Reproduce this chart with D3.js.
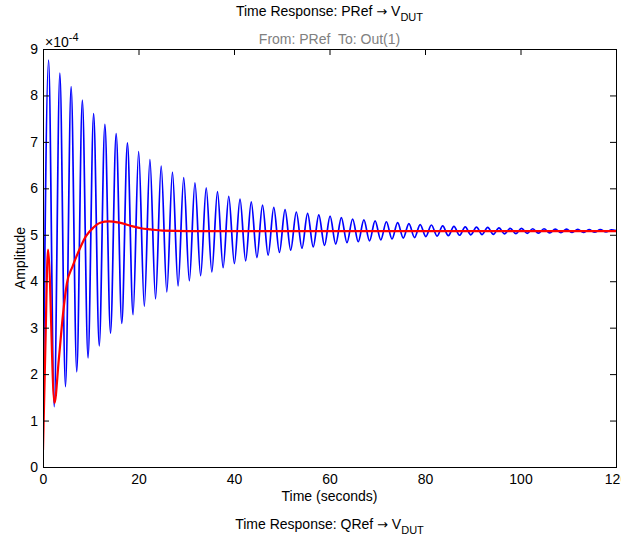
<!DOCTYPE html>
<html><head><meta charset="utf-8">
<script src="https://cdn.jsdelivr.net/npm/d3@7"></script>
<style>
body{margin:0;background:#fff}
svg{display:block}
text{font-family:"Liberation Sans",Arial,Helvetica,sans-serif}
</style>
</head><body>
<svg id="c" width="636" height="543"></svg>
<script>
// ---- data (amplitude in units of 1e-4) ----
const xTicks = [0, 20, 40, 60, 80, 100, 120];
const yTicks = [0, 1, 2, 3, 4, 5, 6, 7, 8, 9];
const titleTop = ["Time Response: PRef ", "\u2192", " V", "DUT"];
const titleBottom = ["Time Response: QRef ", "\u2192", " V", "DUT"];
const subtitle = "From: PRef  To: Out(1)";

// blue response: [time (s), amplitude] at start, each peak/trough, end
const blueSeries = [
  [0, 0.80], [1.17, 8.76], [2.35, 1.30], [3.53, 8.48], [4.71, 1.73], [5.89, 8.19],
  [7.07, 2.05], [8.24, 7.90], [9.43, 2.35], [10.60, 7.61], [11.78, 2.61], [12.96, 7.38],
  [14.14, 2.88], [15.32, 7.18], [16.50, 3.09], [17.68, 6.98], [18.86, 3.28], [20.03, 6.79],
  [21.22, 3.46], [22.39, 6.62], [23.57, 3.62], [24.75, 6.48], [25.93, 3.77], [27.11, 6.35],
  [28.29, 3.90], [29.47, 6.23], [30.65, 4.01], [31.82, 6.12], [33.01, 4.12], [34.18, 6.01],
  [35.36, 4.20], [36.54, 5.93], [37.72, 4.29], [38.90, 5.83], [40.08, 4.38], [41.26, 5.77],
  [42.44, 4.44], [43.61, 5.71], [44.80, 4.51], [45.97, 5.64], [47.15, 4.56], [48.33, 5.59],
  [49.51, 4.62], [50.69, 5.54], [51.87, 4.67], [53.05, 5.49], [54.23, 4.71], [55.41, 5.46],
  [56.59, 4.74], [57.76, 5.43], [58.95, 4.77], [60.12, 5.40], [61.30, 4.80], [62.48, 5.37],
  [63.66, 4.83], [64.84, 5.34], [66.02, 4.85], [67.20, 5.32], [68.38, 4.87], [69.55, 5.30],
  [70.74, 4.89], [71.91, 5.28], [73.09, 4.91], [74.27, 5.26], [75.45, 4.93], [76.63, 5.24],
  [77.81, 4.94], [78.99, 5.22], [80.17, 4.96], [81.34, 5.21], [82.53, 4.97], [83.70, 5.19],
  [84.88, 4.98], [86.06, 5.18], [87.24, 4.99], [88.42, 5.17], [89.60, 5.00], [90.78, 5.165],
  [91.96, 5.005], [93.13, 5.16], [94.32, 5.01], [95.49, 5.15], [96.67, 5.02], [97.85, 5.14],
  [99.03, 5.025], [100.21, 5.14], [101.39, 5.03], [102.57, 5.13], [103.75, 5.035], [104.92, 5.13],
  [106.11, 5.04], [107.28, 5.12], [108.46, 5.045], [109.64, 5.12], [110.82, 5.05], [112.00, 5.115],
  [113.18, 5.05], [114.35, 5.11], [115.54, 5.055], [116.71, 5.11], [117.90, 5.06], [119.07, 5.105],
  [120, 5.09]
];

// red response: [time (s), amplitude]
const redSeries = [
  [0, 0.36], [0.5, 2.6], [1.05, 4.68], [2.4, 1.38], [3.3, 2.3], [4.2, 3.3], [5.0, 3.95],
  [6.2, 4.32], [7.7, 4.70], [9.0, 4.97], [10.5, 5.15], [12.0, 5.26], [13.8, 5.29],
  [16.0, 5.26], [18.8, 5.18], [20.5, 5.14], [22.5, 5.115], [25.0, 5.09], [30.0, 5.08],
  [60.0, 5.08], [120, 5.08]
];

// ---- layout ----
const L = 43, R = 616, T = 49, B = 467;
const svg = d3.select("#c");
const x = d3.scaleLinear().domain([0, 120]).range([L, R]);
const y = d3.scaleLinear().domain([0, 9]).range([B, T]);
const FS = 14;

svg.append("defs").append("clipPath").attr("id", "plotclip")
  .append("rect").attr("x", L).attr("y", T).attr("width", R - L + 1).attr("height", B - T + 1);
svg.select("defs").append("clipPath").attr("id", "labelclip")
  .append("rect").attr("x", 0).attr("y", 0).attr("width", 621).attr("height", 543);

// lines
const line = d3.line().x(d => x(d[0])).y(d => y(d[1])).curve(d3.curveMonotoneX);
const plot = svg.append("g").attr("clip-path", "url(#plotclip)");
plot.append("path").datum(blueSeries).attr("d", line)
  .attr("fill", "none").attr("stroke", "#0000ff").attr("stroke-width", 1.7);
plot.append("path").datum(redSeries).attr("d", line)
  .attr("fill", "none").attr("stroke", "#ff0000").attr("stroke-width", 2.2);

// axes
function style(g) {
  g.attr("font-size", FS).attr("font-family", null);
  g.select(".domain").remove();
  g.selectAll(".tick line").attr("stroke", "#000");
  g.selectAll(".tick text").attr("fill", "#000");
}
svg.append("g").attr("transform", `translate(0,${B})`).attr("clip-path", "url(#labelclip)")
  .call(d3.axisBottom(x).tickValues(xTicks).tickSizeInner(-6).tickSizeOuter(0).tickPadding(7))
  .call(style);
svg.append("g").attr("transform", `translate(0,${T})`)
  .call(d3.axisTop(x).tickValues(xTicks).tickSizeInner(-6).tickSizeOuter(0).tickFormat(""))
  .call(style);
svg.append("g").attr("transform", `translate(${L},0)`)
  .call(d3.axisLeft(y).tickValues(yTicks).tickSizeInner(-6).tickSizeOuter(0).tickPadding(5))
  .call(style);
svg.append("g").attr("transform", `translate(${R},0)`)
  .call(d3.axisRight(y).tickValues(yTicks).tickSizeInner(-6).tickSizeOuter(0).tickFormat(""))
  .call(style);

// box
svg.append("rect").attr("x", L + 0.5).attr("y", T + 0.5).attr("width", R - L).attr("height", B - T)
  .attr("fill", "none").attr("stroke", "#000").attr("stroke-width", 1);

// exponent label
const ex = svg.append("text").attr("x", 45).attr("y", 47).attr("font-size", FS);
ex.append("tspan").text("\u00d710");
ex.append("tspan").attr("dy", -6).attr("font-size", 11).text("-4");

// titles
const cx = (L + R) / 2;
function title(parts, yy) {
  const t = svg.append("text").attr("x", cx).attr("y", yy).attr("text-anchor", "middle")
    .attr("font-size", FS).style("white-space", "pre");
  t.append("tspan").text(parts[0]);
  t.append("tspan").attr("font-family", "DejaVu Sans").attr("font-size", 13).text(parts[1]);
  t.append("tspan").text(parts[2]);
  t.append("tspan").attr("dy", 5).attr("font-size", 11).text(parts[3]);
}
title(titleTop, 16);

svg.append("text").attr("x", cx).attr("y", 44).attr("text-anchor", "middle").attr("font-size", FS)
  .attr("fill", "#808080").style("white-space", "pre").text(subtitle);

svg.append("text").attr("transform", "rotate(-90)").attr("x", -(T + B) / 2).attr("y", 25)
  .attr("text-anchor", "middle").attr("font-size", FS).text("Amplitude");

svg.append("text").attr("x", cx).attr("y", 501).attr("text-anchor", "middle").attr("font-size", FS)
  .text("Time (seconds)");

title(titleBottom, 529);
</script>
</body></html>
